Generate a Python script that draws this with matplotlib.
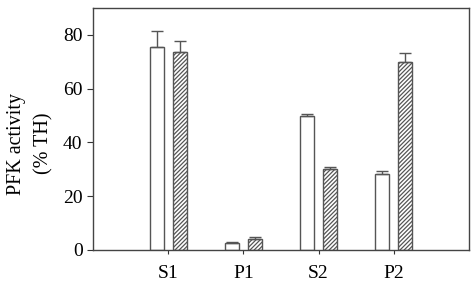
import matplotlib
matplotlib.use("Agg")
import matplotlib.pyplot as plt
import numpy as np

plt.rcParams['font.family'] = ['Liberation Serif', 'DejaVu Serif']
plt.rcParams['hatch.linewidth'] = 0.9

categories = ["S1", "P1", "S2", "P2"]
open_vals = [75.6, 2.6, 50.0, 28.4]
open_err = [5.9, 0.4, 0.6, 1.1]
hatch_vals = [73.5, 4.1, 30.0, 69.8]
hatch_err = [4.3, 0.6, 1.0, 3.5]

fig = plt.figure(figsize=(4.74, 2.89), dpi=100)
ax = fig.add_axes([93/474, 1-250/289, (469-93)/474, (250-8)/289])

x = np.arange(1, len(categories) + 1)
w = 0.186
off = 0.153
ec = '#555555'
ax.bar(x - off, open_vals, w, color='white', edgecolor=ec, linewidth=1.0,
       yerr=[np.zeros(4), open_err], error_kw=dict(ecolor=ec, elinewidth=1.0, capsize=4.5, capthick=1.0))
ax.bar(x + off, hatch_vals, w, color='white', edgecolor=ec, linewidth=1.0, hatch='////////',
       yerr=[np.zeros(4), hatch_err], error_kw=dict(ecolor=ec, elinewidth=1.0, capsize=4.5, capthick=1.0))

ax.set_xlim(0, 5)
ax.set_ylim(0, 90)
ax.set_xticks(x)
ax.set_xticklabels(categories, fontsize=14)
ax.set_yticks([0, 20, 40, 60, 80])
ax.tick_params(axis='y', labelsize=14, direction='out', length=4, color='#333333')
ax.tick_params(axis='x', direction='out', length=3, color='#333333', pad=8)
ax.set_ylabel("PFK activity\n(% TH)", fontsize=14.5, linespacing=1.55)
ax.yaxis.set_label_coords(-0.106, 0.44)
for s in ax.spines.values():
    s.set_color('#444444')
    s.set_linewidth(1.0)

fig.savefig("out.png", dpi=100)
